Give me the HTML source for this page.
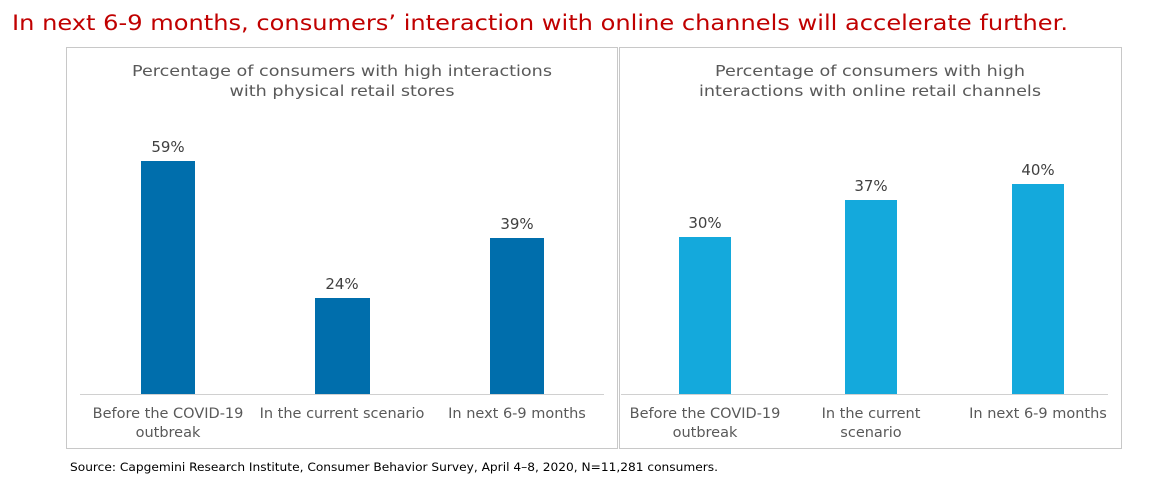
<!DOCTYPE html>
<html><head><meta charset="utf-8"><style>
body{margin:0;background:#fff;}
svg{display:block}
text{font-family:"DejaVu Sans","Liberation Sans",sans-serif;}
</style></head><body>
<svg width="1151" height="487" xmlns="http://www.w3.org/2000/svg">
<text x="12" y="30" font-size="21" fill="#c00000" textLength="1056" lengthAdjust="spacingAndGlyphs">In next 6-9 months, consumers’ interaction with online channels will accelerate further.</text>
<rect x="66.5" y="47.5" width="551" height="401" fill="none" stroke="#c8c8c8"/>
<rect x="619.5" y="47.5" width="502" height="401" fill="none" stroke="#c8c8c8"/>
<g font-size="15" fill="#595959" text-anchor="middle">
<text x="342" y="76" textLength="420" lengthAdjust="spacingAndGlyphs">Percentage of consumers with high interactions</text>
<text x="342" y="96" textLength="225" lengthAdjust="spacingAndGlyphs">with physical retail stores</text>
<text x="870" y="76" textLength="310" lengthAdjust="spacingAndGlyphs">Percentage of consumers with high</text>
<text x="870" y="96" textLength="342" lengthAdjust="spacingAndGlyphs">interactions with online retail channels</text>
</g>
<line x1="80" y1="394.5" x2="604" y2="394.5" stroke="#d0d0d0"/>
<line x1="621" y1="394.5" x2="1108" y2="394.5" stroke="#d0d0d0"/>
<g fill="#006eac">
<rect x="141" y="161" width="54" height="233"/>
<rect x="315" y="298" width="55" height="96"/>
<rect x="490" y="238" width="54" height="156"/>
</g>
<g fill="#14a9dc">
<rect x="679" y="237" width="52" height="157"/>
<rect x="845" y="200" width="52" height="194"/>
<rect x="1012" y="184" width="52" height="210"/>
</g>
<g font-size="15" fill="#404040" text-anchor="middle">
<text x="168" y="152">59%</text>
<text x="342" y="289">24%</text>
<text x="517" y="229">39%</text>
<text x="705" y="228">30%</text>
<text x="871" y="191">37%</text>
<text x="1038" y="175">40%</text>
</g>
<g font-size="14.5" fill="#595959" text-anchor="middle">
<text x="168" y="418">Before the COVID-19</text>
<text x="168" y="437">outbreak</text>
<text x="342" y="418">In the current scenario</text>
<text x="517" y="418">In next 6-9 months</text>
<text x="705" y="418">Before the COVID-19</text>
<text x="705" y="437">outbreak</text>
<text x="871" y="418">In the current</text>
<text x="871" y="437">scenario</text>
<text x="1038" y="418">In next 6-9 months</text>
</g>
<text x="70" y="471" font-size="11.5" fill="#000" textLength="648" lengthAdjust="spacingAndGlyphs">Source: Capgemini Research Institute, Consumer Behavior Survey, April 4–8, 2020, N=11,281 consumers.</text>
</svg>
</body></html>
